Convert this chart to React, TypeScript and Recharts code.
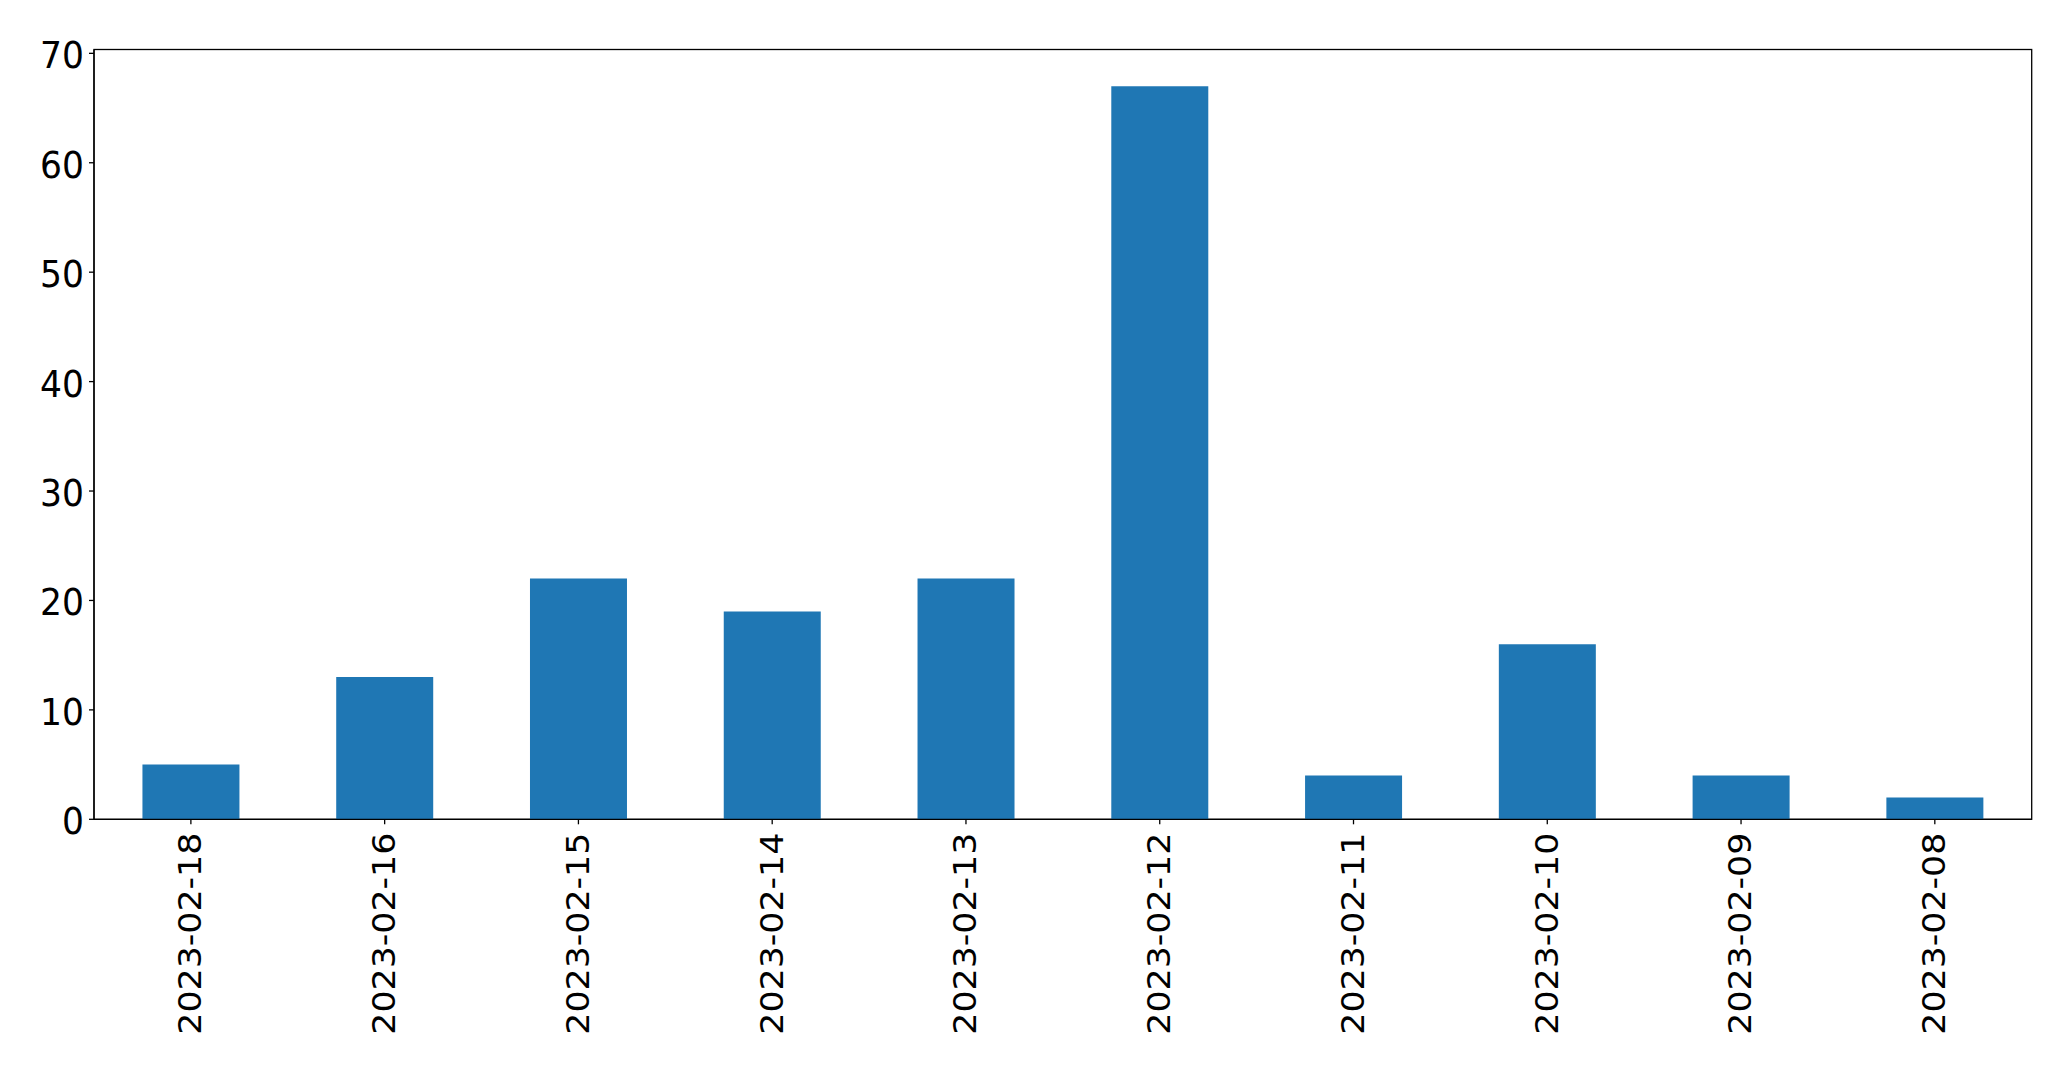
import React from "react";
import * as R from "recharts";
import { BarChart, Bar, XAxis, YAxis } from "recharts";

const categories = ["2023-02-18", "2023-02-16", "2023-02-15", "2023-02-14", "2023-02-13", "2023-02-12", "2023-02-11", "2023-02-10", "2023-02-09", "2023-02-08"];
const values = [5, 13, 22, 19, 22, 67, 4, 16, 4, 2];
const yTicks = [0, 10, 20, 30, 40, 50, 60, 70];
const yMax = 70.35;

const data = categories.map((c, i) => ({ date: c, count: values[i] }));

const FONT = "'DejaVu Sans', sans-serif";

const usePA: any = (R as any).usePlotArea || (() => null);

const Frame = () => {
  const area = usePA();
  if (!area) return null;
  return (
    <rect
      x={area.x}
      y={area.y}
      width={area.width}
      height={area.height}
      fill="none"
      stroke="#000"
      strokeWidth={1.3}
    />
  );
};

const XTick = (props: any) => {
  const { x, y, payload } = props;
  return (
    <g transform={`translate(${x},${y}) scale(1,1.07) rotate(-90)`}>
      <text
        x={0}
        y={10.4}
        textAnchor="end"
        fontFamily={FONT}
        fontSize={32.5}
        fill="#000"
      >
        {payload.value}
      </text>
    </g>
  );
};

const YTick = (props: any) => {
  const { x, y, payload } = props;
  return (
    <g transform={`translate(${x},${y}) scale(1,1.06)`}>
      <text
        x={0}
        y={14.1}
        textAnchor="end"
        fontFamily={FONT}
        fontSize={34.5}
        fill="#000"
      >
        {payload.value}
      </text>
    </g>
  );
};

export default function App() {
  return (
    <div style={{ position: "absolute", left: 0, top: 0, background: "#fff" }}>
      <BarChart
        width={2071}
        height={1071}
        data={data}
        margin={{ top: 49.5, right: 39.3, bottom: 0, left: 0 }}
        barCategoryGap="25%"
      >
        <XAxis
          dataKey="date"
          height={251.7}
          interval={0}
          tick={<XTick />}
          tickSize={5}
          tickMargin={8.4}
          axisLine={{ stroke: "#000", strokeWidth: 1.3 }}
          tickLine={{ stroke: "#000", strokeWidth: 1.3 }}
        />
        <YAxis
          width={94}
          domain={[0, yMax]}
          ticks={yTicks}
          interval={0}
          allowDataOverflow
          tickSize={5}
          tickMargin={5}
          tick={<YTick />}
          axisLine={{ stroke: "#000", strokeWidth: 1.3 }}
          tickLine={{ stroke: "#000", strokeWidth: 1.3 }}
        />
        <Bar dataKey="count" fill="#1f77b4" isAnimationActive={false} />
        <Frame />
      </BarChart>
    </div>
  );
}
